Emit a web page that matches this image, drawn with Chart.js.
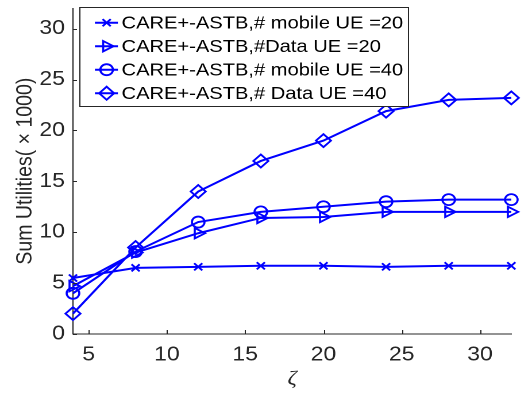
<!DOCTYPE html>
<html>
<head>
<meta charset="utf-8">
<script src="https://cdn.jsdelivr.net/npm/chart.js@4/dist/chart.umd.min.js"></script>
<style>
  html, body { margin: 0; padding: 0; background: #fff; overflow: hidden; }
  #wrap { position: absolute; left: 0; top: 0; width: 463px; height: 394px;
          transform: scaleX(1.149); transform-origin: 0 0; }
</style>
</head>
<body>
<div id="wrap"><canvas id="c"></canvas></div>
<script>
// zeta values on the x axis
const zeta = [4, 8, 12, 16, 20, 24, 28, 32];

// Sum utilities (x 1000) per configuration
const mobile20 = [5.5, 6.5, 6.6, 6.7, 6.7, 6.6, 6.7, 6.7];
const data20   = [4.7, 8.0, 9.9, 11.4, 11.5, 12.0, 12.0, 12.0];
const mobile40 = [4.0, 8.1, 11.0, 12.0, 12.5, 13.0, 13.2, 13.2];
const data40   = [2.0, 8.5, 14.0, 17.0, 19.0, 21.9, 23.0, 23.2];

const seriesLabels = [
  'CARE+-ASTB,# mobile UE =20',
  'CARE+-ASTB,#Data UE =20',
  'CARE+-ASTB,# mobile UE =40',
  'CARE+-ASTB,# Data UE =40'
];

const xTicks = [5, 10, 15, 20, 25, 30];
const yTicks = [0, 5, 10, 15, 20, 25, 30];

const BLUE = '#0000ff';
const AXIS = '#262626';
const SANS = '"Liberation Sans", Arial, Helvetica, sans-serif';

const markers = [
  { pointStyle: 'crossRot', rotation: 0,  radius: 5 },
  { pointStyle: 'triangle', rotation: 90, radius: 6 },
  { pointStyle: 'circle',   rotation: 0,  radius: 5.5 },
  { pointStyle: 'rectRot',  rotation: 0,  radius: 6.5 }
];

const seriesValues = [mobile20, data20, mobile40, data40];

const datasets = seriesValues.map((vals, i) => ({
  label: seriesLabels[i],
  data: zeta.map((z, k) => ({ x: z, y: vals[k] })),
  borderColor: BLUE,
  backgroundColor: BLUE,
  borderWidth: 2,
  pointStyle: markers[i].pointStyle,
  pointRotation: markers[i].rotation,
  pointRadius: markers[i].radius,
  pointHoverRadius: markers[i].radius,
  pointBorderColor: BLUE,
  pointBackgroundColor: 'rgba(0,0,0,0)',
  pointBorderWidth: 1.8,
  tension: 0,
  clip: false
}));

// small inward tick marks on the left and bottom axes
const innerTicks = {
  id: 'innerTicks',
  afterDraw(chart) {
    const { ctx, chartArea: a } = chart;
    const xs = chart.scales.x, ys = chart.scales.y;
    ctx.save();
    ctx.strokeStyle = AXIS;
    ctx.lineWidth = 1;
    ctx.beginPath();
    xTicks.forEach(v => {
      const px = Math.round(xs.getPixelForValue(v)) + 0.5;
      ctx.moveTo(px, a.bottom);
      ctx.lineTo(px, a.bottom - 4);
    });
    yTicks.forEach(v => {
      const py = Math.round(ys.getPixelForValue(v)) + 0.5;
      ctx.moveTo(a.left, py);
      ctx.lineTo(a.left + 3.5, py);
    });
    ctx.stroke();
    ctx.restore();
  }
};

function drawMarker(ctx, m, x, y) {
  const opts = { pointStyle: m.pointStyle, rotation: m.rotation, radius: m.radius, borderWidth: 1.8 };
  ctx.save();
  ctx.strokeStyle = BLUE;
  ctx.fillStyle = 'rgba(0,0,0,0)';
  ctx.lineWidth = 1.8;
  Chart.helpers.drawPoint(ctx, opts, x, y);
  ctx.restore();
}

// boxed legend inside the plot area, top-left
const boxedLegend = {
  id: 'boxedLegend',
  afterDraw(chart) {
    const { ctx, chartArea: a } = chart;
    ctx.save();
    ctx.font = '17.5px ' + SANS;
    const left = a.left + 5.2, top = 7;
    const rowH = 23.5, firstRow = 15.7;
    const lineA = left + 13.9, lineB = left + 33.9, mid = left + 24.1, textX = left + 37.1;
    const labels = chart.data.datasets.map(d => d.label);
    const maxW = Math.max(...labels.map(t => ctx.measureText(t).width));
    const w = textX - left + maxW + 4;
    const h = firstRow + rowH * (labels.length - 1) + 12.8;
    ctx.fillStyle = '#ffffff';
    ctx.fillRect(left, top, w, h);
    ctx.strokeStyle = AXIS;
    ctx.lineWidth = 1;
    ctx.strokeRect(Math.round(left) + 0.5, Math.round(top) + 0.5, Math.round(w), Math.round(h));
    labels.forEach((t, i) => {
      const y = top + firstRow + rowH * i;
      ctx.strokeStyle = BLUE;
      ctx.lineWidth = 2;
      ctx.beginPath();
      ctx.moveTo(lineA, y);
      ctx.lineTo(lineB, y);
      ctx.stroke();
      drawMarker(ctx, markers[i], mid, y);
      ctx.fillStyle = '#000000';
      ctx.textBaseline = 'middle';
      ctx.textAlign = 'left';
      ctx.fillText(t, textX, y + 1);
    });
    ctx.restore();
  }
};

new Chart(document.getElementById('c'), {
  type: 'line',
  data: { datasets },
  options: {
    responsive: true,
    maintainAspectRatio: false,
    devicePixelRatio: 2,
    animation: false,
    layout: { padding: { top: 2, right: 18, left: 0, bottom: 0 } },
    plugins: {
      legend: { display: false },
      tooltip: { enabled: false }
    },
    scales: {
      x: {
        type: 'linear',
        min: 4,
        max: 32,
        grid: { display: false, drawTicks: false },
        border: { display: true, color: AXIS, width: 1 },
        ticks: { color: AXIS, padding: 9, font: { family: SANS, size: 20 } },
        afterBuildTicks(s) { s.ticks = xTicks.map(v => ({ value: v })); },
        afterFit(s) { s.height = 60; s.paddingLeft = 0; s.paddingRight = 0; },
        title: {
          display: true,
          text: 'ζ',
          color: AXIS,
          font: { family: '"Liberation Serif", "DejaVu Serif", serif', size: 20, style: 'italic' },
          padding: { top: 0, bottom: 3 }
        }
      },
      y: {
        type: 'linear',
        min: 0,
        max: 32,
        grid: { display: false, drawTicks: false },
        border: { display: true, color: AXIS, width: 1 },
        ticks: { color: AXIS, padding: 7, font: { family: SANS, size: 20 } },
        afterBuildTicks(s) { s.ticks = yTicks.map(v => ({ value: v })); },
        afterFit(s) { s.width = 63.5; s.paddingTop = 0; s.paddingBottom = 0; },
        title: {
          display: true,
          text: 'Sum Utilities( × 1000)',
          color: AXIS,
          font: { family: SANS, size: 19.5 },
          padding: { top: 10.5, bottom: 0 }
        }
      }
    }
  },
  plugins: [innerTicks, boxedLegend]
});
</script>
</body>
</html>
